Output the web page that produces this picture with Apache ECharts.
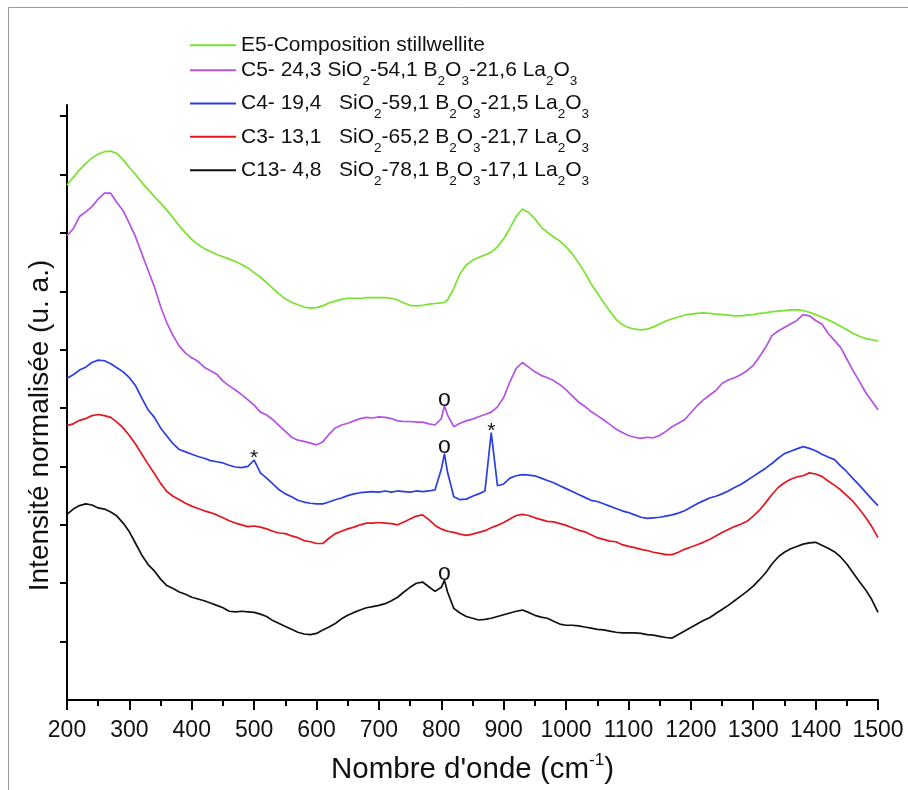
<!DOCTYPE html>
<html>
<head>
<meta charset="utf-8">
<script src="https://cdn.jsdelivr.net/npm/echarts@6/dist/echarts.min.js"></script>
<style>
html,body{margin:0;padding:0;background:#fff;}
#chart{width:908px;height:790px;}
</style>
</head>
<body>
<div id="chart"></div>
<script>
// Wavenumbers (cm-1) at which the spectra were read
const wavenumbers = [
  200,210,220,230,240,250,260,270,280,290,
  300,310,320,330,340,350,360,370,380,390,
  400,410,420,430,440,450,460,470,480,490,
  500,510,520,530,540,550,560,570,580,590,
  600,610,620,630,640,650,660,670,680,690,
  700,710,720,730,740,750,760,770,780,790,
  800,805,810,820,830,840,850,860,870,880,
  890,900,910,920,930,940,950,960,970,980,
  990,1000,1010,1020,1030,1040,1050,1060,1070,1080,
  1090,1100,1110,1120,1130,1140,1150,1160,1170,1180,
  1190,1200,1210,1220,1230,1240,1250,1260,1270,1280,
  1290,1300,1310,1320,1330,1340,1350,1360,1370,1380,
  1390,1400,1410,1420,1430,1440,1450,1460,1470,1480,
  1490,1500
];

const seriesNames = [
  'E5-Composition stillwellite',
  'C5- 24,3 SiO2-54,1 B2O3-21,6 La2O3',
  'C4- 19,4   SiO2-59,1 B2O3-21,5 La2O3',
  'C3- 13,1   SiO2-65,2 B2O3-21,7 La2O3',
  'C13- 4,8   SiO2-78,1 B2O3-17,1 La2O3'
];

// Normalised intensities (stacked, arbitrary units)
const e5 = [
  8.82,8.95,9.08,9.19,9.28,9.35,9.39,9.40,9.36,9.25,
  9.12,9.00,8.86,8.74,8.62,8.51,8.39,8.26,8.12,8.00,
  7.89,7.80,7.73,7.68,7.63,7.59,7.55,7.51,7.46,7.40,
  7.32,7.24,7.15,7.05,6.95,6.87,6.81,6.77,6.73,6.71,
  6.72,6.75,6.80,6.83,6.86,6.88,6.88,6.88,6.89,6.89,
  6.89,6.89,6.88,6.85,6.80,6.76,6.75,6.76,6.78,6.79,
  6.80,6.81,6.85,7.05,7.30,7.45,7.53,7.58,7.62,7.67,
  7.76,7.90,8.08,8.28,8.41,8.35,8.24,8.10,8.01,7.93,
  7.86,7.76,7.64,7.49,7.32,7.13,6.97,6.81,6.66,6.52,
  6.43,6.38,6.35,6.34,6.35,6.39,6.44,6.49,6.53,6.56,
  6.59,6.61,6.62,6.63,6.62,6.61,6.60,6.59,6.58,6.58,
  6.59,6.60,6.62,6.63,6.65,6.66,6.67,6.68,6.68,6.67,
  6.64,6.60,6.56,6.51,6.46,6.40,6.34,6.28,6.23,6.19,
  6.17,6.15
];
const c5 = [
  7.95,8.07,8.28,8.36,8.45,8.58,8.68,8.68,8.52,8.38,
  8.16,7.93,7.64,7.36,7.08,6.74,6.46,6.24,6.06,5.94,
  5.86,5.80,5.70,5.64,5.58,5.46,5.38,5.31,5.23,5.14,
  5.05,4.93,4.88,4.80,4.70,4.60,4.50,4.45,4.43,4.40,
  4.37,4.42,4.55,4.66,4.71,4.74,4.78,4.82,4.84,4.83,
  4.85,4.84,4.82,4.78,4.77,4.77,4.76,4.76,4.73,4.71,
  4.82,5.04,4.88,4.68,4.74,4.78,4.81,4.85,4.89,4.93,
  5.02,5.18,5.45,5.68,5.78,5.70,5.62,5.56,5.52,5.47,
  5.40,5.31,5.21,5.10,5.03,4.94,4.87,4.80,4.72,4.64,
  4.58,4.53,4.50,4.48,4.50,4.49,4.53,4.60,4.68,4.74,
  4.80,4.92,5.04,5.14,5.22,5.30,5.42,5.48,5.52,5.57,
  5.64,5.73,5.88,6.04,6.24,6.32,6.38,6.44,6.50,6.60,
  6.58,6.50,6.44,6.28,6.16,6.04,5.84,5.64,5.46,5.27,
  5.12,4.97
];
const c4 = [
  5.51,5.57,5.65,5.70,5.78,5.82,5.81,5.76,5.69,5.62,
  5.52,5.38,5.17,4.97,4.84,4.66,4.52,4.39,4.29,4.25,
  4.21,4.17,4.14,4.10,4.08,4.06,4.02,3.99,3.98,4.00,
  4.11,3.89,3.80,3.70,3.60,3.53,3.48,3.42,3.39,3.37,
  3.36,3.36,3.39,3.43,3.46,3.50,3.53,3.55,3.56,3.57,
  3.56,3.58,3.56,3.58,3.57,3.56,3.58,3.57,3.58,3.60,
  3.95,4.22,3.90,3.48,3.43,3.44,3.49,3.53,3.58,4.58,
  3.67,3.70,3.80,3.84,3.86,3.85,3.84,3.80,3.76,3.72,
  3.67,3.62,3.57,3.52,3.47,3.42,3.40,3.36,3.32,3.28,
  3.24,3.21,3.17,3.13,3.11,3.12,3.13,3.15,3.17,3.20,
  3.24,3.30,3.36,3.41,3.46,3.49,3.53,3.58,3.64,3.69,
  3.76,3.83,3.90,3.97,4.05,4.14,4.22,4.26,4.30,4.34,
  4.31,4.27,4.21,4.16,4.12,4.01,3.91,3.79,3.68,3.56,
  3.44,3.33
];
const c3 = [
  4.70,4.73,4.79,4.82,4.87,4.89,4.87,4.84,4.76,4.66,
  4.53,4.38,4.21,4.04,3.88,3.71,3.57,3.49,3.43,3.37,
  3.32,3.28,3.24,3.21,3.17,3.12,3.07,3.03,3.00,2.97,
  2.98,2.96,2.93,2.89,2.86,2.85,2.81,2.78,2.73,2.71,
  2.68,2.68,2.77,2.85,2.89,2.93,2.96,3.00,3.03,3.03,
  3.04,3.03,3.02,3.00,3.05,3.10,3.15,3.17,3.09,2.99,
  2.93,2.91,2.89,2.87,2.84,2.82,2.84,2.87,2.90,2.95,
  2.99,3.04,3.10,3.16,3.18,3.16,3.12,3.09,3.06,3.05,
  3.02,2.99,2.95,2.91,2.88,2.83,2.78,2.75,2.72,2.71,
  2.66,2.63,2.61,2.58,2.56,2.53,2.51,2.49,2.49,2.53,
  2.58,2.62,2.66,2.70,2.75,2.81,2.87,2.92,2.97,3.01,
  3.06,3.15,3.25,3.38,3.52,3.64,3.72,3.78,3.82,3.84,
  3.89,3.87,3.83,3.75,3.68,3.60,3.50,3.40,3.27,3.13,
  2.97,2.78
];
const c13 = [
  3.18,3.27,3.33,3.36,3.34,3.29,3.27,3.22,3.15,3.03,
  2.88,2.68,2.48,2.32,2.21,2.07,1.96,1.91,1.85,1.81,
  1.76,1.73,1.70,1.66,1.62,1.58,1.52,1.51,1.52,1.51,
  1.50,1.47,1.43,1.36,1.31,1.26,1.21,1.16,1.13,1.12,
  1.14,1.20,1.25,1.31,1.39,1.45,1.50,1.54,1.58,1.60,
  1.62,1.65,1.70,1.76,1.85,1.93,2.00,2.02,1.94,1.86,
  1.93,2.05,1.85,1.57,1.49,1.43,1.40,1.37,1.38,1.40,
  1.43,1.46,1.49,1.52,1.54,1.50,1.45,1.42,1.40,1.35,
  1.30,1.28,1.28,1.27,1.25,1.23,1.21,1.20,1.18,1.16,
  1.15,1.15,1.15,1.14,1.12,1.11,1.09,1.07,1.06,1.12,
  1.18,1.24,1.30,1.36,1.41,1.48,1.55,1.62,1.70,1.78,
  1.86,1.95,2.06,2.18,2.33,2.45,2.53,2.59,2.63,2.67,
  2.69,2.70,2.65,2.60,2.54,2.45,2.33,2.18,2.03,1.89,
  1.72,1.50
];

// Peak annotations: [wavenumber, symbol]
const marksE5 = [];
const marksC5 = [[805, 'o']];
const marksC4 = [[500, '*'], [805, 'o'], [880, '*']];
const marksC3 = [];
const marksC13 = [[805, 'o']];

const yTickValues = [1, 2, 3, 4, 5, 6, 7, 8, 9, 10];

const seriesValues = [e5, c5, c4, c3, c13];
const seriesMarks = [marksE5, marksC5, marksC4, marksC3, marksC13];
const colors = ['#78e22e', '#b452e3', '#2a3ee2', '#e5161e', '#111111'];
const legendCenters = [52.7, 77.7, 111, 144.3, 177.7];

const FONT = '"Liberation Sans", Arial, Helvetica, sans-serif';

function richName(name) {
  return '{t|' + name.replace(/([OBa])(\d)/g, '$1}{s|$2}{t|') + '}';
}

const chart = echarts.init(document.getElementById('chart'), null, {renderer: 'canvas'});

const series = seriesNames.map((name, i) => {
  const vals = seriesValues[i];
  const data = wavenumbers.map((x, k) => [x, vals[k]]);
  const markData = seriesMarks[i].map(([x, sym]) => {
    const k = wavenumbers.indexOf(x);
    return {
      name: sym,
      coord: [x, vals[k]],
      label: sym === '*'
        ? {fontSize: 21, offset: [0, 9]}
        : {fontSize: 23, offset: [0, 5]}
    };
  });
  return {
    name: name,
    type: 'line',
    data: data,
    showSymbol: false,
    symbol: 'none',
    color: colors[i],
    lineStyle: {color: colors[i], width: 1.7},
    animation: false,
    markPoint: markData.length ? {
      symbol: 'circle',
      symbolSize: 0,
      animation: false,
      itemStyle: {color: 'rgba(0,0,0,0)'},
      label: {
        show: true,
        position: 'top',
        distance: 0,
        color: '#111',
        fontFamily: FONT,
        formatter: p => p.name
      },
      data: markData
    } : undefined
  };
});

const legends = seriesNames.map((name, i) => ({
  data: [name],
  left: 190,
  top: legendCenters[i] - 18,
  padding: 0,
  itemGap: 0,
  itemWidth: 46,
  itemHeight: 2,
  icon: 'rect',
  selectedMode: false,
  formatter: richName,
  textStyle: {
    color: '#111',
    fontFamily: FONT,
    fontSize: 21,
    rich: {
      t: {fontSize: 21, lineHeight: 36, color: '#111', fontFamily: FONT},
      s: {fontSize: 13.5, lineHeight: 14, verticalAlign: 'bottom', color: '#111', fontFamily: FONT}
    }
  }
}));

const option = {
  backgroundColor: '#ffffff',
  animation: false,
  grid: {left: 67, right: 30, top: 105, bottom: 88, containLabel: false},
  legend: legends,
  xAxis: {
    type: 'value',
    min: 200,
    max: 1500,
    interval: 100,
    name: "{t|Nombre d'onde (cm}{sup|-1}{t|)}",
    nameLocation: 'middle',
    nameGap: 52,
    nameTextStyle: {
      fontFamily: FONT,
      fontSize: 29.5,
      color: '#111',
      rich: {
        t: {fontSize: 29.5, lineHeight: 36, fontFamily: FONT, color: '#111'},
        sup: {fontSize: 17, lineHeight: 17, verticalAlign: 'top', fontFamily: FONT, color: '#111'}
      }
    },
    axisLine: {show: true, onZero: false, lineStyle: {color: '#000', width: 2}},
    axisTick: {show: true, inside: false, length: 10, lineStyle: {color: '#000', width: 2}},
    minorTick: {show: true, splitNumber: 2, length: 6, lineStyle: {color: '#000', width: 2}},
    axisLabel: {fontSize: 23, color: '#111', fontFamily: FONT, margin: 19, formatter: v => String(v)},
    splitLine: {show: false},
    minorSplitLine: {show: false}
  },
  yAxis: {
    type: 'value',
    min: 0,
    max: 10.19,
    interval: 1,
    name: 'Intensité normalisée (u. a.)',
    nameLocation: 'middle',
    nameGap: 13,
    nameTextStyle: {
      fontSize: 28,
      fontFamily: FONT,
      color: '#111',
      padding: [0, 46, 0, 0]
    },
    axisLine: {show: true, onZero: false, lineStyle: {color: '#000', width: 2}},
    axisTick: {show: true, inside: false, length: 7, customValues: yTickValues, lineStyle: {color: '#000', width: 2}},
    axisLabel: {show: false},
    splitLine: {show: false}
  },
  graphic: [{
    type: 'polyline',
    silent: true,
    shape: {points: [[8.5, 790], [8.5, 7.5], [908, 7.5]]},
    style: {stroke: '#9a9a9a', lineWidth: 1, fill: null}
  }],
  series: series
};

chart.setOption(option);
</script>
</body>
</html>
